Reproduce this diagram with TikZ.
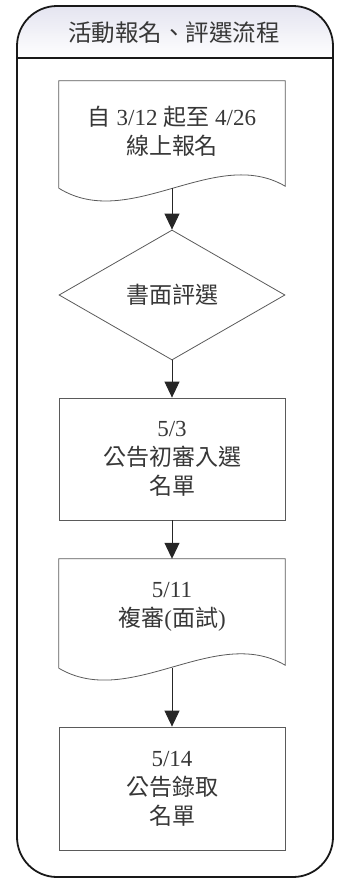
\documentclass[tikz,border=0pt]{standalone}
\usepackage{fontspec}
\setmainfont{Liberation Serif}
\newfontfamily\cjk{Noto Sans CJK TC}
\usetikzlibrary{shapes.geometric,arrows.meta}
\definecolor{txtc}{RGB}{55,55,55}
\definecolor{linec}{RGB}{90,90,90}
\definecolor{headc}{RGB}{228,228,240}
\tikzset{
  lbl/.style={font=\fontsize{23pt}{29pt}\selectfont, text=txtc, align=center, inner sep=0pt},
  stepbox/.style={draw=linec, line width=0.8pt, rectangle, minimum width=226pt, inner sep=0pt, lbl},
  docarea/.style={rectangle, minimum width=226pt, inner sep=0pt, lbl},
  docline/.style={draw=linec, line width=0.8pt},
  decide/.style={draw=linec, line width=0.8pt, diamond, aspect=1.74, minimum width=226pt, minimum height=130pt, inner sep=0pt, lbl},
  flow/.style={line width=1pt, black!85, -{Triangle[width=15pt,length=16pt]}},
  frame/.style={line width=1.8pt, black!90, rounded corners=40pt},
}
\begin{document}
\begin{tikzpicture}[x=1pt,y=-1pt]
\useasboundingbox (0,0) rectangle (342,879);
% header shading
\begin{scope}
  \clip[rounded corners=40pt] (17,6) rectangle (333,877);
  \shade[top color=headc, bottom color=white] (17,6) rectangle (333,58);
\end{scope}
\draw[frame] (17,6) rectangle (333,877);
\draw[line width=1.5pt, black!90] (17,58) -- (333,58);
\node[lbl, font=\fontsize{23.5pt}{28pt}\selectfont] (title) at (174,33) {\cjk 活動報名、評選流程};
% document 1
\node[docarea, minimum height=107pt] (doc1) at (172,134.5) {};
\node[lbl] (t1) at (172,131) {{\cjk 自} 3/12 {\cjk 起至} 4/26\\{\cjk 線上報名}};
\draw[docline] (doc1.south west) -- (doc1.north west) -- (doc1.north east) -- ([yshift=2pt]doc1.south east)
  .. controls ([xshift=-70pt,yshift=43pt]doc1.south east) and ([xshift=71pt,yshift=-44pt]doc1.south west) .. (doc1.south west);
% decision
\node[decide] (dec) at (172,295) {\cjk 書面評選};
% rect 2
\node[stepbox, minimum height=122pt] (r2) at (172,459) {5/3\\{\cjk 公告初審入選}\\{\cjk 名單}};
% document 2
\node[docarea, minimum height=109pt] (doc2) at (172,613.5) {};
\node[lbl] (t2) at (172,607) {5/11\\{\cjk 複審}({\cjk 面試})};
\draw[docline] (doc2.south west) -- (doc2.north west) -- (doc2.north east) -- ([yshift=3pt]doc2.south east)
  .. controls ([xshift=-70pt,yshift=44pt]doc2.south east) and ([xshift=71pt,yshift=-42pt]doc2.south west) .. (doc2.south west);
% rect 3
\node[stepbox, minimum height=123pt] (r3) at (172,788.5) {5/14\\{\cjk 公告錄取}\\{\cjk 名單}};
% connectors
\draw[flow] (doc1.south) -- (dec.north);
\draw[flow] (dec.south) -- (r2.north);
\draw[flow] (r2.south) -- (doc2.north);
\draw[flow] (doc2.south) -- (r3.north);
\end{tikzpicture}
\end{document}
